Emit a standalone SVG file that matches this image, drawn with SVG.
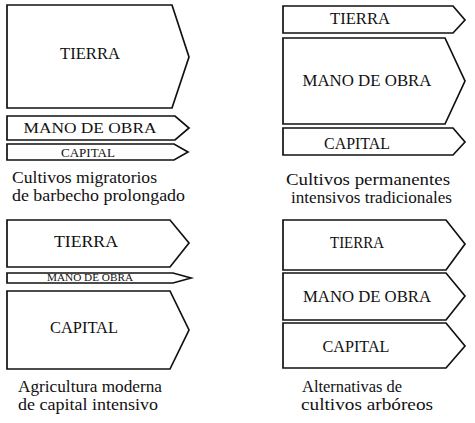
<svg xmlns="http://www.w3.org/2000/svg" width="475" height="423" viewBox="0 0 475 423">
<style>
.box{fill:#fff;stroke:#111;stroke-width:1.7;stroke-linejoin:miter}
.lbl{font-family:'Liberation Serif','DejaVu Serif','Times New Roman',serif;fill:#111;text-anchor:middle}
.cap{font-family:'Liberation Serif','DejaVu Serif','Times New Roman',serif;fill:#111;font-size:16px}
</style>
<rect width="475" height="423" fill="#fff"/>
<g id="tl">
<g id="tl-tierra"><polygon class="box" points="7,5 172,5 189,57 172,108 7,108"/><text class="lbl" font-family="Liberation Serif, serif" x="90" y="59" font-size="17" textLength="60" lengthAdjust="spacingAndGlyphs">TIERRA</text></g>
<g id="tl-mano"><polygon class="box" points="7,116 175,116 189,128 175,140 7,140"/><text class="lbl" font-family="Liberation Serif, serif" x="90" y="133" font-size="15" textLength="133" lengthAdjust="spacingAndGlyphs">MANO DE OBRA</text></g>
<g id="tl-capital"><polygon class="box" points="7,144 174,144 188,152 174,160 7,160"/><text class="lbl" font-family="Liberation Serif, serif" x="88" y="157" font-size="13" textLength="54" lengthAdjust="spacingAndGlyphs">CAPITAL</text></g>
<g id="tl-caption"><text class="cap" font-family="Liberation Serif, serif" x="12" y="183" textLength="145" lengthAdjust="spacingAndGlyphs">Cultivos migratorios</text><text class="cap" font-family="Liberation Serif, serif" x="12" y="201" textLength="173" lengthAdjust="spacingAndGlyphs">de barbecho prolongado</text></g>
</g>
<g id="tr">
<g id="tr-tierra"><polygon class="box" points="283,6 453,6 465,20 453,33 283,33"/><text class="lbl" font-family="Liberation Serif, serif" x="360" y="24" font-size="16" textLength="60" lengthAdjust="spacingAndGlyphs">TIERRA</text></g>
<g id="tr-mano"><polygon class="box" points="283,38 445,38 465,81 445,124 283,124"/><text class="lbl" font-family="Liberation Serif, serif" x="367" y="86" font-size="17" textLength="129" lengthAdjust="spacingAndGlyphs">MANO DE OBRA</text></g>
<g id="tr-capital"><polygon class="box" points="283,128 453,128 465,142 453,155 283,155"/><text class="lbl" font-family="Liberation Serif, serif" x="357" y="149" font-size="16" textLength="66" lengthAdjust="spacingAndGlyphs">CAPITAL</text></g>
<g id="tr-caption"><text class="cap" font-family="Liberation Serif, serif" x="286" y="185" textLength="164" lengthAdjust="spacingAndGlyphs">Cultivos permanentes</text><text class="cap" font-family="Liberation Serif, serif" x="291" y="203" textLength="161" lengthAdjust="spacingAndGlyphs">intensivos tradicionales</text></g>
</g>
<g id="bl">
<g id="bl-tierra"><polygon class="box" points="7,220 170,220 189,243 170,267 7,267"/><text class="lbl" font-family="Liberation Serif, serif" x="86" y="247" font-size="17" textLength="64" lengthAdjust="spacingAndGlyphs">TIERRA</text></g>
<g id="bl-mano"><polygon class="box" points="7,273 173,273 191,278 173,283 7,283"/><text class="lbl" font-family="Liberation Serif, serif" x="90" y="281" font-size="10" textLength="86" lengthAdjust="spacingAndGlyphs">MANO DE OBRA</text></g>
<g id="bl-capital"><polygon class="box" points="7,291 170,291 189,330 170,369 7,369"/><text class="lbl" font-family="Liberation Serif, serif" x="84" y="333" font-size="17" textLength="68" lengthAdjust="spacingAndGlyphs">CAPITAL</text></g>
<g id="bl-caption"><text class="cap" font-family="Liberation Serif, serif" x="18" y="392" textLength="144" lengthAdjust="spacingAndGlyphs">Agricultura moderna</text><text class="cap" font-family="Liberation Serif, serif" x="18" y="410" textLength="140" lengthAdjust="spacingAndGlyphs">de capital intensivo</text></g>
</g>
<g id="br">
<g id="br-tierra"><polygon class="box" points="283,220 446,220 465,244 446,270 283,270"/><text class="lbl" font-family="Liberation Serif, serif" x="357" y="248" font-size="16" textLength="54" lengthAdjust="spacingAndGlyphs">TIERRA</text></g>
<g id="br-mano"><polygon class="box" points="283,273 446,273 465,296 446,320 283,320"/><text class="lbl" font-family="Liberation Serif, serif" x="367" y="302" font-size="17" textLength="128" lengthAdjust="spacingAndGlyphs">MANO DE OBRA</text></g>
<g id="br-capital"><polygon class="box" points="283,323 446,323 465,346 446,368 283,368"/><text class="lbl" font-family="Liberation Serif, serif" x="356" y="352" font-size="16" textLength="67" lengthAdjust="spacingAndGlyphs">CAPITAL</text></g>
<g id="br-caption"><text class="cap" font-family="Liberation Serif, serif" x="302" y="392" textLength="100" lengthAdjust="spacingAndGlyphs">Alternativas de</text><text class="cap" font-family="Liberation Serif, serif" x="301" y="410" textLength="132" lengthAdjust="spacingAndGlyphs">cultivos arbóreos</text></g>
</g>
</svg>
